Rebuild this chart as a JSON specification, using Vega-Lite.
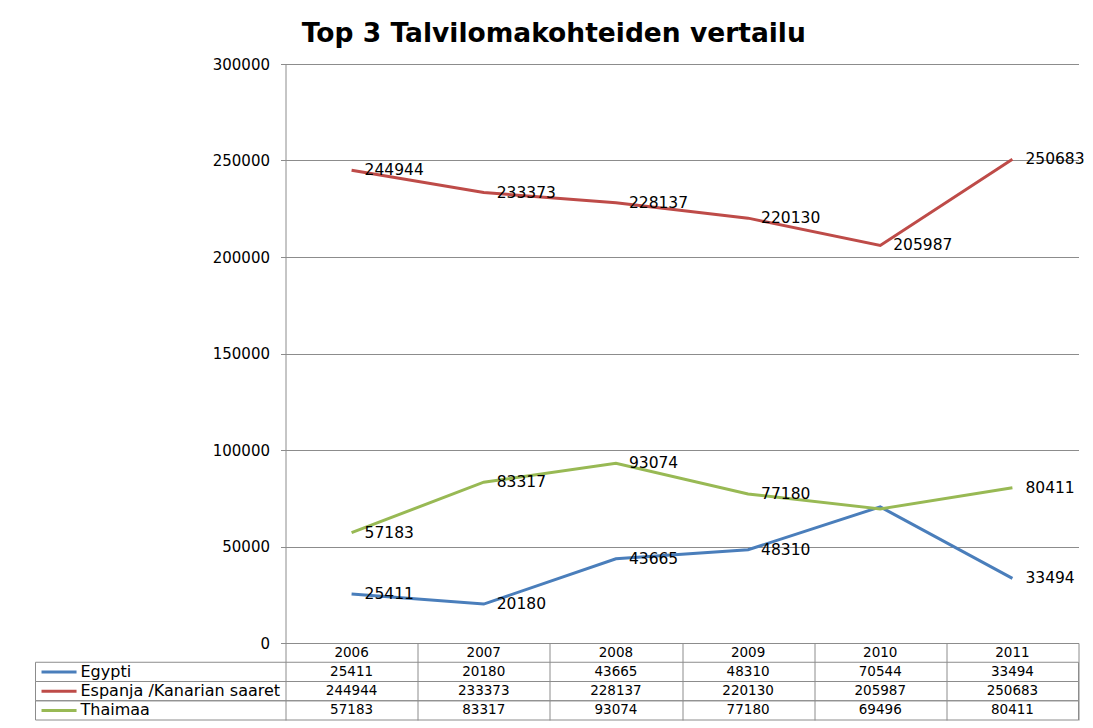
{
  "$schema": "https://vega.github.io/schema/vega-lite/v6.json",
  "padding": {"left": 34.5, "top": 20, "right": 0, "bottom": 0},
  "background": "white",
  "title": {
    "text": "Top 3 Talvilomakohteiden vertailu",
    "font": "DejaVu Sans",
    "fontSize": 26.5,
    "fontWeight": "bold",
    "color": "black",
    "anchor": "middle",
    "offset": 10,
    "dx": -6
  },
  "datasets": {
    "d": [
      {"series": "Egypti", "year": 2006, "value": 25411},
      {"series": "Egypti", "year": 2007, "value": 20180},
      {"series": "Egypti", "year": 2008, "value": 43665},
      {"series": "Egypti", "year": 2009, "value": 48310},
      {"series": "Egypti", "year": 2010, "value": 70544},
      {"series": "Egypti", "year": 2011, "value": 33494},
      {"series": "Espanja /Kanarian saaret", "year": 2006, "value": 244944},
      {"series": "Espanja /Kanarian saaret", "year": 2007, "value": 233373},
      {"series": "Espanja /Kanarian saaret", "year": 2008, "value": 228137},
      {"series": "Espanja /Kanarian saaret", "year": 2009, "value": 220130},
      {"series": "Espanja /Kanarian saaret", "year": 2010, "value": 205987},
      {"series": "Espanja /Kanarian saaret", "year": 2011, "value": 250683},
      {"series": "Thaimaa", "year": 2006, "value": 57183},
      {"series": "Thaimaa", "year": 2007, "value": 83317},
      {"series": "Thaimaa", "year": 2008, "value": 93074},
      {"series": "Thaimaa", "year": 2009, "value": 77180},
      {"series": "Thaimaa", "year": 2010, "value": 69496},
      {"series": "Thaimaa", "year": 2011, "value": 80411}
    ]
  },
  "data": {"name": "d"},
  "vconcat": [
    {
      "width": 793,
      "height": 579,
      "encoding": {
        "x": {"field": "year", "type": "ordinal", "scale": {"type": "point", "padding": 0.5}, "axis": null},
        "y": {
          "field": "value", "type": "quantitative",
          "scale": {"domain": [0, 300000], "nice": false, "zero": true},
          "axis": {
            "values": [0, 50000, 100000, 150000, 200000, 250000, 300000],
            "format": "d", "title": null, "grid": true,
            "gridColor": "#8c8c8c", "gridWidth": 1,
            "domainColor": "#8c8c8c", "tickColor": "#8c8c8c", "tickSize": 5,
            "labelFont": "DejaVu Sans", "labelFontSize": 15, "labelColor": "black",
            "labelPadding": 11
          }
        }
      },
      "layer": [
        {
          "mark": {"type": "line", "strokeWidth": 3},
          "encoding": {
            "color": {
              "field": "series", "type": "nominal",
              "scale": {"domain": ["Egypti", "Espanja /Kanarian saaret", "Thaimaa"], "range": ["#4A7EBB", "#BE4B48", "#98B954"]},
              "legend": null
            }
          }
        },
        {
          "transform": [{"filter": "!(datum.year == 2010 && datum.series != 'Espanja /Kanarian saaret')"}],
          "mark": {"type": "text", "align": "left", "baseline": "middle", "dx": 13, "font": "DejaVu Sans", "fontSize": 15.5, "color": "black"},
          "encoding": {"text": {"field": "value", "type": "nominal"}}
        }
      ]
    },
    {
      "width": 793,
      "height": 77,
      "layer": [
        {
          "transform": [{"filter": "datum.year == 2006"}],
          "mark": {"type": "rect", "fill": "transparent", "stroke": "#8c8c8c", "strokeWidth": 1},
          "encoding": {
            "x": {"datum": 2003.6085, "type": "quantitative",
              "scale": {"domain": [2005.5, 2011.5], "nice": false, "zero": false},
              "axis": {"values": [2005.5, 2006.5, 2007.5, 2008.5, 2009.5, 2010.5, 2011.5], "grid": true, "gridColor": "#8c8c8c", "labels": false, "ticks": false, "domain": false, "title": null}
            },
            "x2": {"datum": 2011.5},
            "y": {"field": "series", "type": "nominal",
              "scale": {"domain": ["hdr", "Egypti", "Espanja /Kanarian saaret", "Thaimaa"], "paddingInner": 0, "paddingOuter": 0},
              "axis": null}
          }
        },
        {
          "transform": [{"filter": "datum.year == 2006"}],
          "mark": {"type": "rule", "strokeWidth": 3},
          "encoding": {
            "x": {"datum": 2003.654, "type": "quantitative"},
            "x2": {"datum": 2003.919},
            "y": {"field": "series", "type": "nominal"},
            "color": {
              "field": "series", "type": "nominal",
              "scale": {"domain": ["Egypti", "Espanja /Kanarian saaret", "Thaimaa"], "range": ["#4A7EBB", "#BE4B48", "#98B954"]},
              "legend": null
            }
          }
        },
        {
          "transform": [{"filter": "datum.year == 2006"}],
          "mark": {"type": "text", "align": "left", "baseline": "middle", "font": "DejaVu Sans", "fontSize": 16, "color": "black"},
          "encoding": {
            "x": {"datum": 2003.949, "type": "quantitative"},
            "y": {"field": "series", "type": "nominal"},
            "text": {"field": "series", "type": "nominal"}
          }
        },
        {
          "mark": {"type": "text", "align": "center", "baseline": "middle", "font": "DejaVu Sans", "fontSize": 13.5, "color": "black"},
          "encoding": {
            "x": {"field": "year", "type": "quantitative"},
            "y": {"field": "series", "type": "nominal"},
            "text": {"field": "value", "type": "nominal"}
          }
        },
        {
          "transform": [{"filter": "datum.series == 'Egypti'"}],
          "mark": {"type": "text", "align": "center", "baseline": "middle", "font": "DejaVu Sans", "fontSize": 13.5, "color": "black"},
          "encoding": {
            "x": {"field": "year", "type": "quantitative"},
            "y": {"datum": "hdr"},
            "text": {"field": "year", "type": "nominal"}
          }
        }
      ]
    }
  ],
  "spacing": 0,
  "bounds": "flush",
  "config": {
    "view": {"stroke": null},
    "font": "DejaVu Sans"
  }
}
